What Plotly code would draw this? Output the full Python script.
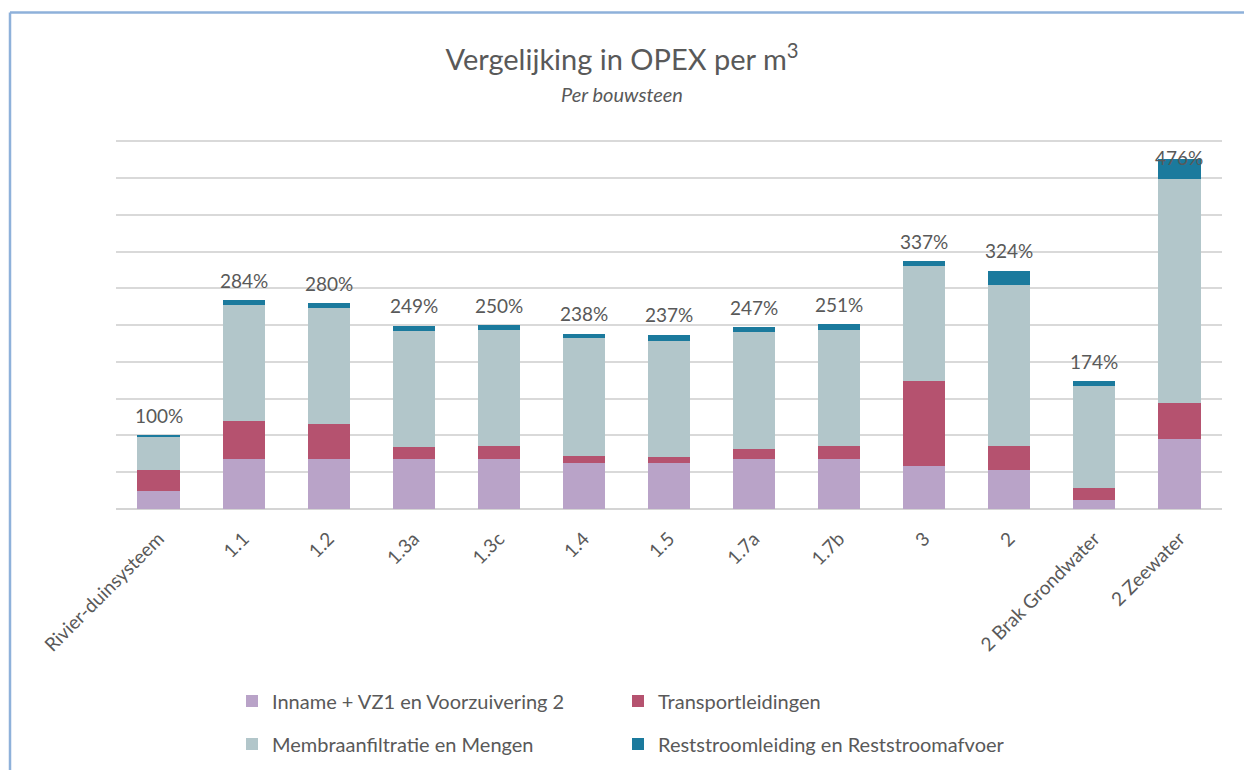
import plotly.graph_objects as go

# OPEX per m3 per building block, relative to the river-dune system (= 100%)
categories = ["Rivier-duinsysteem", "1.1", "1.2", "1.3a", "1.3c", "1.4", "1.5",
              "1.7a", "1.7b", "3", "2", "2 Brak Grondwater", "2 Zeewater"]
inname = [25, 68, 68, 68, 68, 63, 63, 68, 68, 58, 53, 12, 95]
transport = [28, 51, 48, 16, 17, 9, 8, 14, 18, 116, 32, 17, 49]
membraan = [46, 158, 157, 158, 158, 160, 158, 159, 158, 157, 220, 138, 304]
reststroom = [1, 7, 7, 7, 7, 6, 8, 6, 7, 6, 19, 7, 28]
totals = [100, 284, 280, 249, 250, 238, 237, 247, 251, 337, 324, 174, 476]

series = [
    ("Inname + VZ1 en Voorzuivering 2", inname, "#b9a3c8", "legend"),
    ("Transportleidingen", transport, "#b5526f", "legend"),
    ("Membraanfiltratie en Mengen", membraan, "#b2c6ca", "legend2"),
    ("Reststroomleiding en Reststroomafvoer", reststroom, "#1b7a9d", "legend2"),
]

FONT = "Lato"
GREY = "#595959"
W, H = 1244, 770
ML, MR, MT, MB = 116, 22, 139, 261
PW, PH = W - ML - MR, H - MT - MB
YMAX = 500
YTOP = 503  # a little headroom so the 500 gridline is drawn


def px_x(px):
    return (px - ML) / PW


def px_y(py):
    return (H - MB - py) / PH


fig = go.Figure()
for name, vals, color, leg in series:
    fig.add_trace(go.Bar(
        x=categories, y=vals, name=name, marker=dict(color=color, line=dict(width=0)),
        legend=leg, hoverinfo="x+y+name",
    ))

# total labels above each stack, kept inside the plot area
unit_px = PH / YTOP
for i, tot in enumerate(totals):
    y_lab = min(tot + 20 / unit_px, YMAX - 16 / unit_px)
    fig.add_annotation(x=i, y=y_lab, text=f"{tot}%", showarrow=False,
                       xanchor="center", yanchor="middle",
                       font=dict(family=FONT, size=19, color=GREY))

# subtitle
fig.add_annotation(x=px_x(W / 2), xref="paper", y=px_y(94), yref="paper",
                   text="<i>Per bouwsteen</i>", showarrow=False,
                   xanchor="center", yanchor="middle",
                   font=dict(family=FONT, size=20, color=GREY))

# chart frame
frame = dict(type="line", xref="paper", yref="paper",
             line=dict(color="#8eb1da", width=2.5))
fig.add_shape(**frame, x0=px_x(10), x1=px_x(W + 5), y0=px_y(12.5), y1=px_y(12.5))
fig.add_shape(**frame, x0=px_x(10), x1=px_x(10), y0=px_y(12.5), y1=px_y(H + 5))

legend_common = dict(orientation="h", xanchor="left", yanchor="middle",
                     xref="container", yref="container",
                     traceorder="normal",
                     entrywidth=341, entrywidthmode="pixels",
                     font=dict(family=FONT, size=20, color=GREY),
                     bgcolor="rgba(0,0,0,0)", itemclick=False)

fig.update_layout(
    width=W, height=H,
    margin=dict(l=ML, r=MR, t=MT, b=MB, pad=0, autoexpand=False),
    paper_bgcolor="white", plot_bgcolor="white",
    barmode="stack", bargap=0.505,
    title=dict(text="Vergelijking in OPEX per m<sup>3</sup>", x=0.5, xanchor="center",
               y=1 - 60 / H, yanchor="middle", yref="container",
               font=dict(family=FONT, size=29, color=GREY)),
    xaxis=dict(type="category", tickangle=-45, ticklabelstandoff=14, showgrid=False,
               showline=False, ticks="", automargin=False,
               tickfont=dict(family=FONT, size=19, color=GREY)),
    yaxis=dict(range=[0, YTOP], dtick=50, showticklabels=False, showgrid=True,
               gridcolor="#d9d9d9", gridwidth=1.5, zeroline=True,
               zerolinecolor="#d4d4d4", zerolinewidth=2, fixedrange=True),
    legend=dict(**legend_common, x=232 / W, y=1 - 701 / H),
    legend2=dict(**legend_common, x=232 / W, y=1 - 744 / H),
    showlegend=True,
)

fig.write_html("out.html")
